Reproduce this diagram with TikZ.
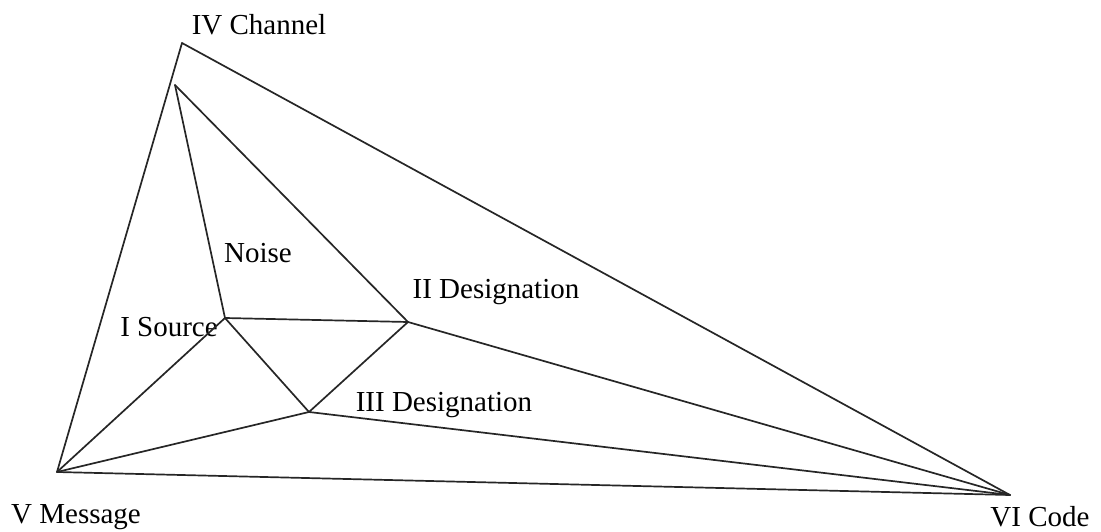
\documentclass[tikz,border=0pt]{standalone}
\usepackage{fontspec}
\setmainfont{Liberation Serif}
\tikzset{
  edge/.style={line width=1.7pt, black!85, line join=round, line cap=round},
  lbl/.style={font=\fontsize{29}{31}\selectfont, inner sep=0pt},
}
\begin{document}
\begin{tikzpicture}[x=1pt,y=-1pt]
\useasboundingbox (0,0) rectangle (1101,532);
% ================= corner points =================
\coordinate (chan) at (182,43);
\coordinate (top) at (175,85);
\coordinate (src) at (225,318);
\coordinate (desII) at (408,322);
\coordinate (desIII) at (309,412);
\coordinate (msg) at (57,472);
\coordinate (code) at (1010,495);
% ================= labels =================
\node[lbl] (lchan) at (259,25) {IV Channel};
\node[lbl] (lnoise) at (258,253) {Noise};
\node[lbl] (lsrc) at (169,327) {I Source};
\node[lbl] (ldesII) at (496,292) {II Designation};
\node[lbl] (ldesIII) at (444,405) {III Designation};
\node[lbl] (lmsg) at (76,517) {V Message};
\node[lbl] (lcode) at (1040,517) {VI Code};
% ================= edges =================
\draw[edge] (msg) -- (chan) -- (code) -- cycle;
\foreach \a/\b in {top/src, top/desII, src/desII, src/desIII, desIII/desII, msg/src, msg/desIII, desII/code, desIII/code}{
  \draw[edge] (\a) -- (\b);}
\end{tikzpicture}
\end{document}
